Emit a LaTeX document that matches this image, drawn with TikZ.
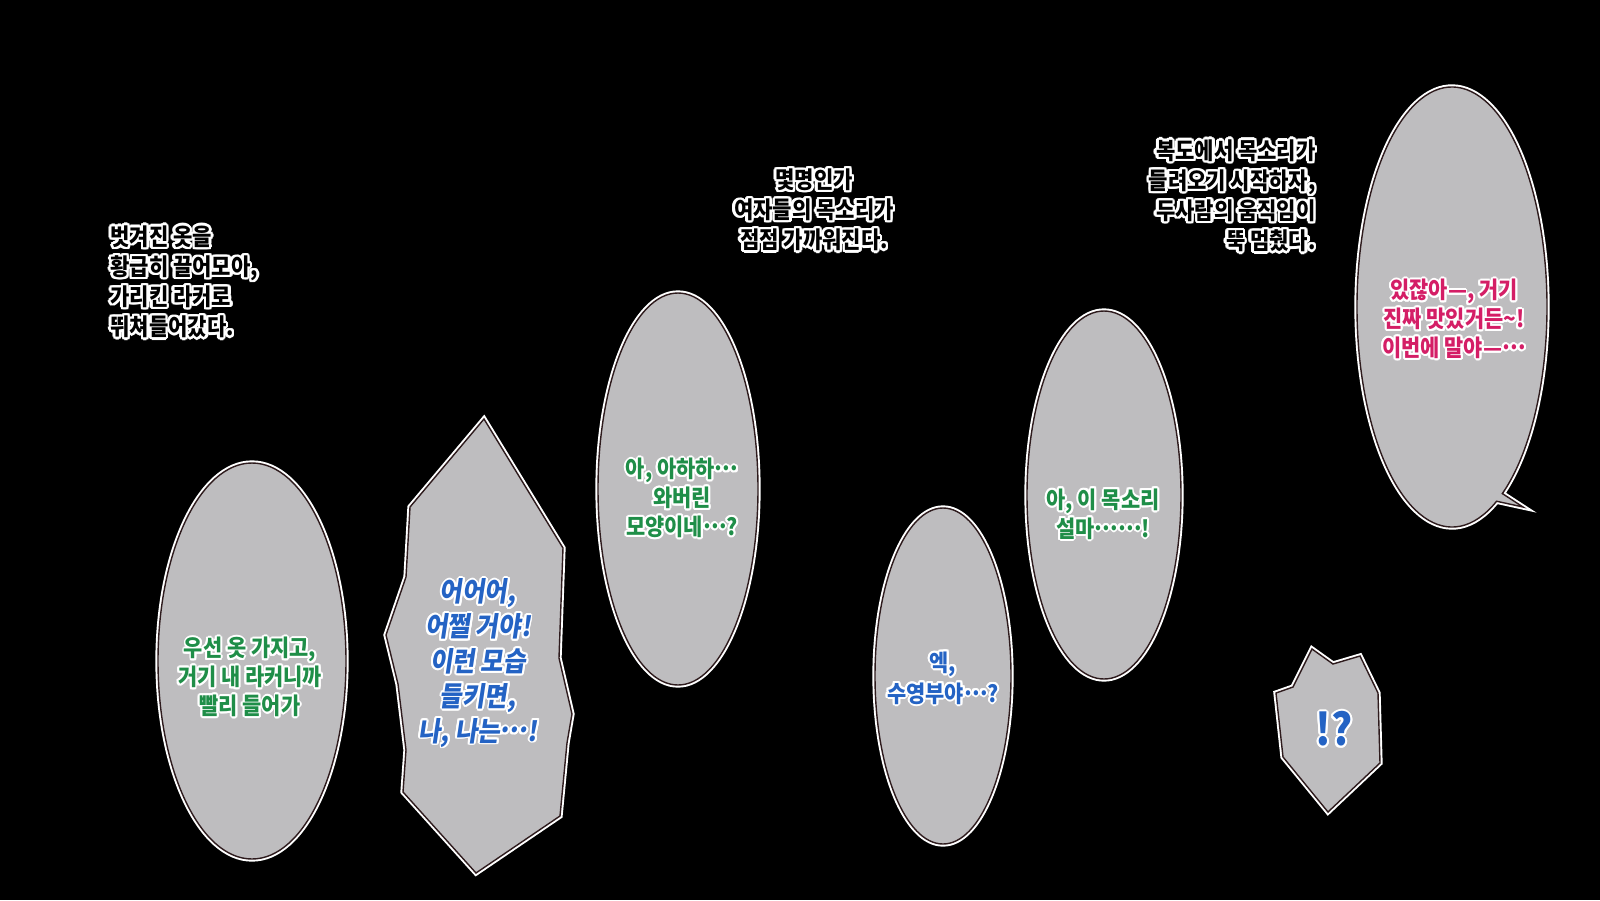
\documentclass[tikz,border=0pt]{standalone}
\usepackage{fontspec}
\usepackage{xcolor}
\usepackage[copies]{contour}
\newfontfamily\kr{Noto Sans CJK KR}[FakeStretch=0.9]
\newfontfamily\krslant{Noto Sans CJK KR}[FakeStretch=0.9,FakeSlant=0.15]
\definecolor{bubblegray}{HTML}{BEBDBF}
\definecolor{bubbleedge}{HTML}{2E1B1D}
\definecolor{talkgreen}{HTML}{1F8E48}
\definecolor{talkblue}{HTML}{2463C4}
\definecolor{talkpink}{HTML}{D41E66}
\contourlength{1.1pt}
\newcommand{\wl}[1]{\contour{white}{#1}}
\newcommand{\middots}{\raisebox{.3em}{…}}

\begin{document}
\begin{tikzpicture}
  [x=0.02cm,y=-0.02cm,
   bubble/.style={preaction={draw=white,line width=3pt},fill=bubblegray,
     draw=bubbleedge,line width=0.8pt,line join=miter},
   narration/.style={font=\kr\bfseries\fontsize{13.3}{17.1}\selectfont\contourlength{1.4pt},
     text=black,inner sep=0pt},
   talk/.style={font=\kr\bfseries\fontsize{13.2}{16.4}\selectfont,align=center,inner sep=0pt}]

  \fill[black] (0,0) rectangle (1600,900);
  \useasboundingbox (0,0) rectangle (1600,900);

  % oval bubbles
  \foreach \x/\y/\rx/\ry in {252/661/94/198, 678/489/80/196, 943/676/68/168, 1104/495/77/184}
    \path[bubble] (\x,\y) ellipse[x radius=\rx, y radius=\ry];

  % bubble with tail
  \path[bubble] (1452,307) ++(62:95 and 220)
    arc[start angle=62, end angle=418, x radius=95, y radius=220] -- (1523,507) -- cycle;

  % spiky bubbles
  \path[bubble] (484,419) -- (563,548) -- (559,658) -- (572,714) -- (567,743) -- (560,816)
    -- (476,873) -- (403,792) -- (406,750) -- (398,684) -- (386,635) -- (406,577) -- (410,507) -- cycle;
  \path[bubble] (1276,693) -- (1293,687) -- (1312,649) -- (1333,664) -- (1360,656)
    -- (1378,693) -- (1380,763) -- (1328,812) -- (1283,757) -- cycle;

  % narration
  \node[narration,align=left,anchor=west] (n1) at (110,283)
    {\wl{벗겨진 옷을}\\\wl{황급히 끌어모아,}\\\wl{가리킨 라커로}\\\wl{뛰쳐들어갔다.}};
  \node[narration,align=center] (n2) at (814,211)
    {\wl{몇명인가}\\\wl{여자들의 목소리가}\\\wl{점점 가까워진다.}};
  \node[narration,align=right,anchor=east] (n3) at (1316,197)
    {\wl{복도에서 목소리가}\\\wl{들려오기 시작하자,}\\\wl{두사람의 움직임이}\\\wl{뚝 멈췄다.}};

  % speech
  \node[talk,text=talkgreen] (t1) at (250,678)
    {\wl{우선 옷 가지고,}\\\wl{거기 내 라커니까}\\\wl{빨리 들어가}};
  \node[talk,text=talkblue,font=\krslant\bfseries\fontsize{15.5}{19.8}\selectfont] (t2) at (478,664)
    {\wl{어어어,}\\\wl{어쩔 거야!}\\\wl{이런 모습}\\\wl{들키면,}\\\wl{나, 나는\middots!}};
  \node[talk,text=talkgreen] (t3) at (682,499)
    {\wl{아, 아하하\middots}\\\wl{와버린}\\\wl{모양이네\middots?}};
  \node[talk,text=talkblue,font=\kr\bfseries\fontsize{13.2}{17.6}\selectfont] (t4) at (943,679)
    {\wl{엑,}\\\wl{수영부야\middots?}};
  \node[talk,text=talkgreen] (t5) at (1103,515)
    {\wl{아, 이 목소리}\\\wl{설마\middots\middots!}};
  \node[talk,text=talkpink] (t6) at (1454,320)
    {\wl{있잖아—, 거기}\\\wl{진짜 맛있거든\textasciitilde!}\\\wl{이번에 말야—\middots}};
  \node[talk,text=talkblue,font=\kr\bfseries\fontsize{25}{30}\selectfont] (t7) at (1334,730)
    {\wl{!?}};

\end{tikzpicture}
\end{document}
